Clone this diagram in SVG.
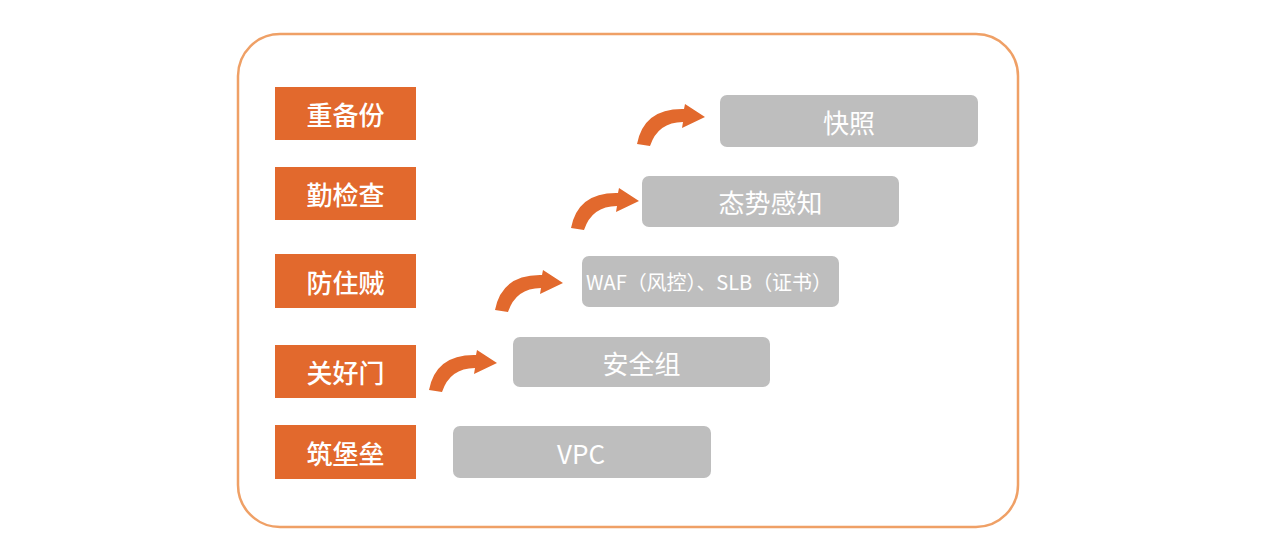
<svg xmlns="http://www.w3.org/2000/svg" xmlns:xlink="http://www.w3.org/1999/xlink" width="1280" height="553" viewBox="0 0 1280 553">
<style>
.frame{fill:#fff;stroke:#EFA066;stroke-width:2.5}
.ob{fill:#E2692D}
.gb{fill:#BEBEBE}
.ot{font-family:"Noto Sans CJK SC","Noto Sans",sans-serif;font-size:26px;font-weight:500;fill:#fff;text-anchor:middle;dominant-baseline:central}
.gt{font-family:"Noto Sans CJK SC","Noto Sans",sans-serif;font-size:26px;fill:#fff;text-anchor:middle;dominant-baseline:central}
.arr{fill:#E2692D}
</style>
<defs>
<path id="arrow" class="arr" d="M -68 27 Q -61 -9 -21 -8 L -20 -13 L 0 0 L -23 11 L -22 5 Q -47 5 -55 29 Z"/>
</defs>
<rect width="1280" height="553" fill="#fff"/>
<rect class="frame" x="238" y="34" width="780" height="493" rx="42"/>
<g id="n-zhongbeifen"><rect class="ob" x="275" y="87" width="141" height="53"/><text class="ot" x="345.5" y="113.5">重备份</text></g>
<g id="n-qinjiancha"><rect class="ob" x="275" y="167" width="141" height="53"/><text class="ot" x="345.5" y="193.5">勤检查</text></g>
<g id="n-fangzhuzei"><rect class="ob" x="275" y="254" width="141" height="54"/><text class="ot" x="345.5" y="281">防住贼</text></g>
<g id="n-guanhaomen"><rect class="ob" x="275" y="345" width="141" height="53"/><text class="ot" x="345.5" y="371.5">关好门</text></g>
<g id="n-zhubaolei"><rect class="ob" x="275" y="425" width="141" height="54"/><text class="ot" x="345.5" y="452">筑堡垒</text></g>
<g id="n-kuaizhao"><rect class="gb" x="720" y="95" width="258" height="52" rx="7"/><text class="gt" x="849" y="121">快照</text></g>
<g id="n-taishi"><rect class="gb" x="642" y="176" width="257" height="51" rx="7"/><text class="gt" x="770.5" y="201.5">态势感知</text></g>
<g id="n-waf"><rect class="gb" x="582" y="256" width="257" height="51" rx="7"/><text class="gt" x="709" y="281.5" style="font-size:20px" textLength="246" lengthAdjust="spacing">WAF（风控）、SLB（证书）</text></g>
<g id="n-anquanzu"><rect class="gb" x="513" y="337" width="257" height="50" rx="7"/><text class="gt" x="641.5" y="362">安全组</text></g>
<g id="n-vpc"><rect class="gb" x="453" y="426" width="258" height="52" rx="7"/><text class="gt" x="581" y="452">VPC</text></g>
<g id="connectors">
<use xlink:href="#arrow" transform="translate(497,363)"/>
<use xlink:href="#arrow" transform="translate(563,283)"/>
<use xlink:href="#arrow" transform="translate(639,201)"/>
<use xlink:href="#arrow" transform="translate(705,117)"/>
</g>
</svg>
